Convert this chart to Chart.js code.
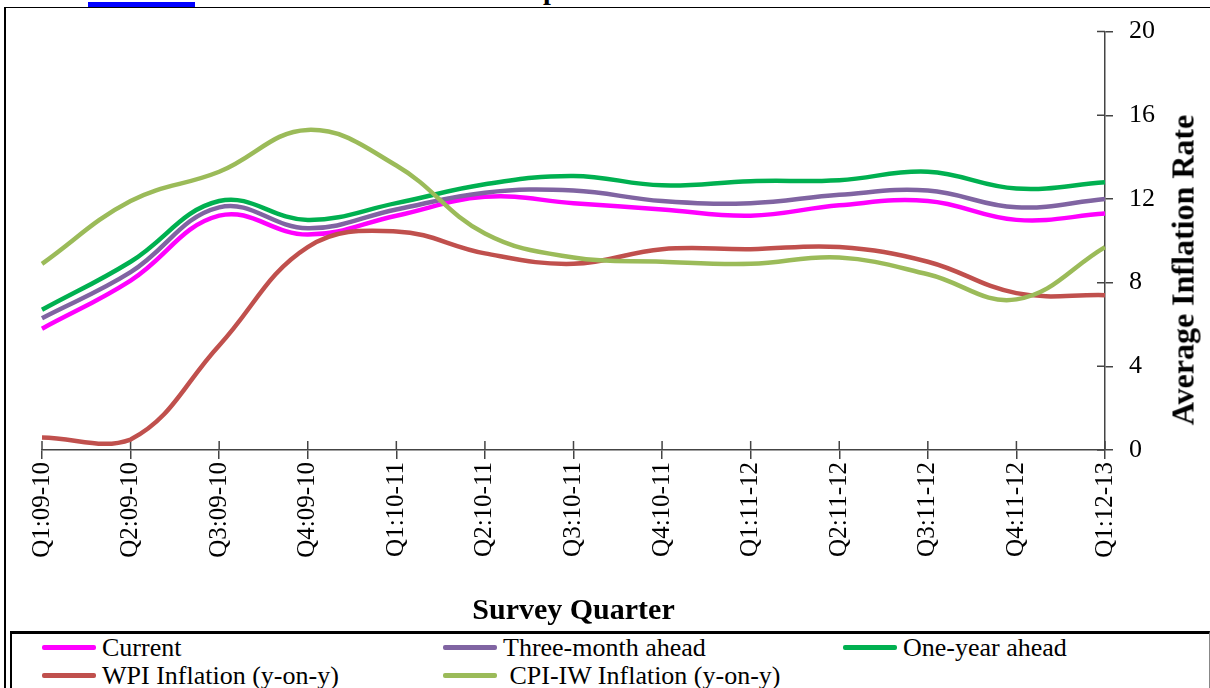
<!DOCTYPE html>
<html>
<head>
<meta charset="utf-8">
<script src="https://cdn.jsdelivr.net/npm/chart.js@4"></script>
<style>
  body { margin: 0; width: 1210px; height: 688px; overflow: hidden; background: #fff; position: relative; font-family: "Liberation Serif", serif; }
  #blue { position: absolute; left: 88px; top: 2px; width: 107px; height: 5px; background: #0000ff; }
  #cut { position: absolute; left: 543px; top: -24px; font: bold 28px/28px "Liberation Serif"; }
  #frame { position: absolute; left: 4px; top: 7px; width: 1220px; height: 700px; border-top: 1.5px solid #000; border-left: 2px solid #000; }
  #wrap { position: absolute; left: 0; top: 0; width: 1210px; height: 630px; }
  #ytitle { position: absolute; left: 1183px; top: 270px; transform: translate(-50%, -50%) rotate(-90deg); font: bold 32px "Liberation Serif"; white-space: nowrap; }
  #legend { position: absolute; left: 10px; top: 631px; width: 1197px; height: 80px; border-top: 3px solid #000; border-left: 2px solid #000; border-right: 1px solid #888; background: #fff; }
  .item { position: absolute; height: 28px; white-space: nowrap; font-size: 26px; line-height: 28px; }
  .item .mark { position: absolute; left: 0; top: 11px; width: 54px; height: 4.5px; border-radius: 2px; }
  .item .txt { position: absolute; left: 60px; top: 0; white-space: pre; }
</style>
</head>
<body>
<div id="blue"></div>
<div id="cut">p</div>
<div id="frame"></div>
<div id="wrap"><canvas id="inflation"></canvas></div>
<div id="ytitle">Average Inflation Rate</div>
<div id="legend"></div>
<script>
const quarters = ["Q1:09-10", "Q2:09-10", "Q3:09-10", "Q4:09-10", "Q1:10-11", "Q2:10-11", "Q3:10-11",
    "Q4:10-11", "Q1:11-12", "Q2:11-12", "Q3:11-12", "Q4:11-12", "Q1:12-13"];

const current = [5.8, 8.1, 11.2, 10.3, 11.2, 12.1, 11.8, 11.5, 11.2, 11.7, 11.9, 11.0, 11.3];
const threeMonth = [6.3, 8.5, 11.6, 10.6, 11.5, 12.3, 12.4, 11.9, 11.8, 12.2, 12.4, 11.6, 12.0];
const oneYear = [6.7, 9.0, 11.9, 11.0, 11.8, 12.7, 13.1, 12.65, 12.85, 12.9, 13.3, 12.5, 12.8];
const wpi = [0.6, 0.5, 5.0, 9.7, 10.45, 9.4, 8.9, 9.6, 9.6, 9.7, 9.0, 7.5, 7.4];
const cpi = [8.9, 11.9, 13.3, 15.3, 13.6, 10.35, 9.2, 9.0, 8.9, 9.2, 8.4, 7.2, 9.7];

const seriesNames = ["Current", "Three-month ahead", "One-year ahead", "WPI Inflation (y-on-y)", " CPI-IW Inflation (y-on-y)"];
const seriesColors = ["#ff00ff", "#8064a2", "#00b050", "#c0504d", "#9bbb59"];
const yTicks = [0, 4, 8, 12, 16, 20];

const seriesData = [current, threeMonth, oneYear, wpi, cpi];

const datasets = seriesData.map((values, i) => ({
    label: seriesNames[i].trim(),
    data: values,
    borderColor: seriesColors[i],
    backgroundColor: seriesColors[i],
    borderWidth: 4.5,
    pointRadius: 0,
    tension: 0.4,
    order: seriesData.length - i,
}));

// tick marks crossing the axes (inner half)
const innerTicks = {
    id: "innerTicks",
    beforeDatasetsDraw(chart) {
        const ctx = chart.ctx;
        const area = chart.chartArea;
        const x = chart.scales.x;
        const y = chart.scales.y;
        ctx.save();
        ctx.strokeStyle = "#444";
        ctx.lineWidth = 1.5;
        ctx.beginPath();
        x.ticks.forEach((t, i) => {
            const px = x.getPixelForTick(i);
            ctx.moveTo(px, area.bottom - 9);
            ctx.lineTo(px, area.bottom);
        });
        y.ticks.forEach((t, i) => {
            const py = y.getPixelForTick(i);
            ctx.moveTo(area.right - 8, py);
            ctx.lineTo(area.right, py);
        });
        ctx.stroke();
        ctx.restore();
    },
};

new Chart(document.getElementById("inflation"), {
    type: "line",
    data: {
        labels: quarters,
        datasets: datasets,
    },
    options: {
        responsive: true,
        maintainAspectRatio: false,
        animation: false,
        layout: {
            padding: { left: 42, top: 31, right: 0, bottom: 0 },
        },
        plugins: {
            legend: { display: false },
            tooltip: { enabled: false },
        },
        scales: {
            x: {
                offset: false,
                grid: { drawOnChartArea: false, tickLength: 9, color: "#444", lineWidth: 1.5 },
                border: { color: "#444", width: 1.5 },
                ticks: {
                    minRotation: 90,
                    maxRotation: 90,
                    padding: 3,
                    color: "#000",
                    font: { family: "Liberation Serif", size: 25 },
                },
                title: {
                    display: true,
                    text: "Survey Quarter",
                    color: "#000",
                    font: { family: "Liberation Serif", size: 30, weight: "bold" },
                    padding: { top: 0, bottom: 1 },
                },
                afterFit: (scale) => { scale.height = 180; },
            },
            y: {
                position: "right",
                min: 0,
                max: 20,
                afterBuildTicks: (scale) => { scale.ticks = yTicks.map((v) => ({ value: v })); },
                grid: { drawOnChartArea: false, tickLength: 8, color: "#444", lineWidth: 1.5 },
                border: { color: "#444", width: 1.5 },
                ticks: {
                    padding: 16,
                    color: "#000",
                    font: { family: "Liberation Serif", size: 26 },
                },
                afterFit: (scale) => { scale.width = 105; },
            },
        },
    },
    plugins: [innerTicks],
});

// legend built from the same series arrays
const legendBox = document.getElementById("legend");
const legendX = [30, 431, 831];
const legendY = [0, 28];
seriesNames.forEach((name, i) => {
    const item = document.createElement("div");
    item.className = "item";
    item.style.left = legendX[i % 3] + "px";
    item.style.top = legendY[Math.floor(i / 3)] + "px";
    const mark = document.createElement("span");
    mark.className = "mark";
    mark.style.background = seriesColors[i];
    const txt = document.createElement("span");
    txt.className = "txt";
    txt.textContent = name;
    item.appendChild(mark);
    item.appendChild(txt);
    legendBox.appendChild(item);
});
</script>
</body>
</html>
